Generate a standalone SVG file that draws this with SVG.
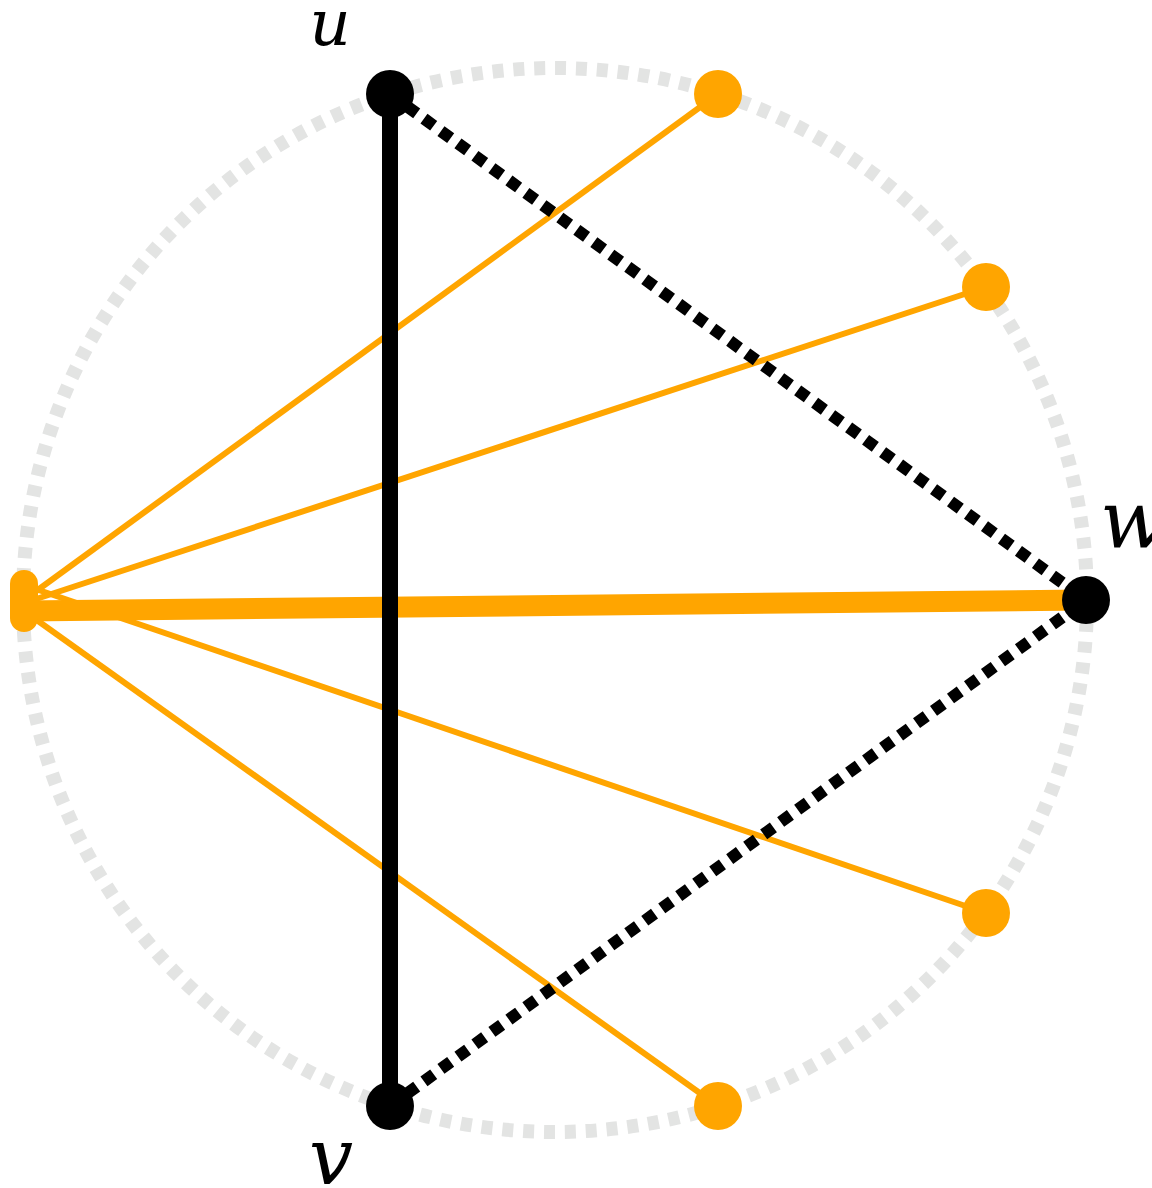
<svg xmlns="http://www.w3.org/2000/svg" width="1152" height="1188" viewBox="0 0 1152 1188">
  <style>
    .ring { fill: none; stroke: #e3e4e3; stroke-width: 14; stroke-dasharray: 11 9.89; }
    .thin { stroke: #ffa500; stroke-width: 6; fill: none; }
    .thick { stroke: #ffa500; stroke-width: 21; fill: none; }
    .solid { stroke: #000; stroke-width: 16; fill: none; }
    .dotted { stroke: #000; stroke-width: 12; stroke-dasharray: 12 9; fill: none; }
    .onode { fill: #ffa500; }
    .bnode { fill: #000; }
    .lbl { font-family: "DejaVu Serif", "Liberation Serif", serif; font-style: italic; fill: #000; }
  </style>
  <rect width="1152" height="1188" fill="#fff"/>
  <circle class="ring" cx="555" cy="600" r="532"/>
  <g id="connectors">
    <line class="thin" x1="24" y1="600" x2="718" y2="94"/>
    <line class="thin" x1="24" y1="603" x2="986" y2="287"/>
    <line class="thin" x1="24" y1="585" x2="986" y2="913"/>
    <line class="thin" x1="24" y1="611" x2="718" y2="1106"/>
    <line class="thick" x1="24" y1="611" x2="1086" y2="600"/>
    <line class="solid" x1="390" y1="94" x2="390" y2="1106"/>
    <line class="dotted" x1="390" y1="94" x2="1086" y2="600"/>
    <line class="dotted" x1="390" y1="1106" x2="1086" y2="600"/>
  </g>
  <g id="node-left"><rect class="onode" x="10" y="570" width="28" height="62" rx="14"/></g>
  <g id="node-o1"><circle class="onode" cx="718" cy="94" r="24"/></g>
  <g id="node-o2"><circle class="onode" cx="986" cy="287" r="24"/></g>
  <g id="node-o3"><circle class="onode" cx="986" cy="913" r="24"/></g>
  <g id="node-o4"><circle class="onode" cx="718" cy="1106" r="24"/></g>
  <g id="node-u"><circle class="bnode" cx="390" cy="94" r="24"/><text class="lbl" x="330" y="45" font-size="64" text-anchor="middle">u</text></g>
  <g id="node-v"><circle class="bnode" cx="390" cy="1106" r="24"/><text class="lbl" x="331" y="1184" font-size="78" text-anchor="middle">v</text></g>
  <g id="node-w"><circle class="bnode" cx="1086" cy="600" r="24"/><text class="lbl" x="1100" y="548" font-size="80">w</text></g>
</svg>
